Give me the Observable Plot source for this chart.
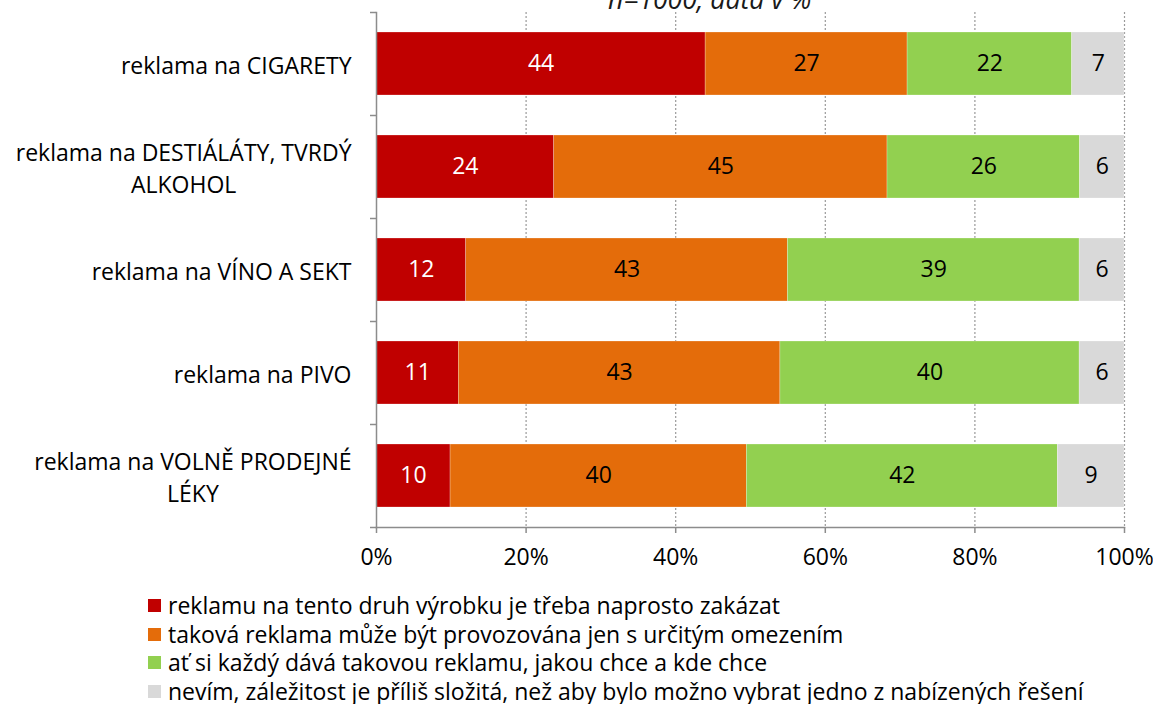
<!DOCTYPE html>
<html><head><meta charset="utf-8">
<script src="https://cdn.jsdelivr.net/npm/d3@7"></script>
<script src="https://cdn.jsdelivr.net/npm/@observablehq/plot@0.6"></script>
<style>
body{margin:0;background:#fff;font-family:"Open Sans",sans-serif;overflow:hidden}
#wrap{position:relative;width:1153px;height:704px;overflow:hidden}
#title{position:absolute;left:608px;top:-14px;font-size:26.5px;line-height:26.5px;font-style:italic;color:#1a1a1a;white-space:nowrap}
#chart{position:absolute;left:0;top:0}
#legend{position:absolute;left:148px;top:591px;font-size:23px;color:#000}
#legend .row{height:28.7px;line-height:28.7px;white-space:nowrap;display:flex;align-items:center}
#legend .sw{width:13px;height:13px;margin-right:7px;flex:none}
</style></head><body>
<div id="wrap">
  <div id="chart"></div>
  <div id="title">n=1000, data v %</div>
  <div id="legend"></div>
</div>
<script>
const categories = ["reklama na CIGARETY", "reklama na DESTIÁLÁTY, TVRDÝ\nALKOHOL", "reklama na VÍNO A SEKT", "reklama na PIVO", "reklama na VOLNĚ PRODEJNÉ\nLÉKY"];
const responses = [
  "reklamu na tento druh výrobku je třeba naprosto zakázat",
  "taková reklama může být provozována jen s určitým omezením",
  "ať si každý dává takovou reklamu, jakou chce a kde chce",
  "nevím, záležitost je příliš složitá, než aby bylo možno vybrat jedno z nabízených řešení"
];
const colors = ["#C00000", "#E46C0A", "#92D050", "#D9D9D9"];
const labelColors = ["#ffffff", "#000000", "#000000", "#000000"];
const zakazat = [44, 24, 12, 11, 10];
const omezeni = [27, 45, 43, 43, 40];
const kazdy = [22, 26, 39, 40, 42];
const nevim = [7, 6, 6, 6, 9];
const xTicks = [0, 0.2, 0.4, 0.6, 0.8, 1];

const series = [zakazat, omezeni, kazdy, nevim];
const data = [];
categories.forEach((c, i) => series.forEach((s, j) => data.push({cat: c, resp: responses[j], value: s[i], j})));

const W = 1153, H = 580, mTop = 12, mBottom = 53, mLeft = 376, mRight = 29;
const step = (H - mTop - mBottom) / categories.length;
const axisGray = "#8c8c8c";
const fs = 23;

const plot = Plot.plot({
  width: W, height: H,
  marginTop: mTop, marginBottom: mBottom, marginLeft: mLeft, marginRight: mRight,
  style: {fontFamily: "Open Sans", fontSize: fs + "px", color: "#000", background: "#fff"},
  x: {domain: [0, 1], axis: null, label: null},
  y: {domain: categories, paddingInner: 0.39, paddingOuter: 0.195, axis: null, label: null},
  color: {domain: responses, range: colors},
  marks: [
    Plot.ruleX(xTicks.slice(1), {stroke: "#9a9a9a", strokeWidth: 1.2, strokeDasharray: "2,2"}),
    Plot.barX(data, Plot.stackX({x: "value", y: "cat", fill: "resp", z: "resp", offset: "normalize", stroke: "#fff", strokeWidth: 0.5, strokeOpacity: 0.5})),
    Plot.text(data, Plot.stackX({x: "value", y: "cat", z: "resp", offset: "normalize", text: d => String(d.value), fill: d => labelColors[d.j], fontSize: fs})),
    Plot.frame({anchor: "left", stroke: axisGray, strokeWidth: 1.5}),
    Plot.frame({anchor: "bottom", stroke: axisGray, strokeWidth: 1.5}),
    Plot.ruleY(categories, {x1: -6 / 748, x2: 0, dy: -step / 2, stroke: axisGray, strokeWidth: 1.5}),
    Plot.ruleY(categories.slice(-1), {x1: -6 / 748, x2: 0, dy: step / 2, stroke: axisGray, strokeWidth: 1.5}),
    Plot.axisX({ticks: xTicks, tickFormat: d3.format(".0%"), tickSize: 6, tickPadding: 15.5, stroke: axisGray, strokeWidth: 1.5, fill: "#000", fontSize: fs, label: null}),
    Plot.axisY({tickSize: 0, tickPadding: 25, fill: "#000", fontSize: fs, lineHeight: 1.39, label: null})
  ]
});
document.getElementById("chart").appendChild(plot);

// centre multi-line category labels as in the original
d3.select(plot).selectAll("g[aria-label='y-axis tick label'] text").each(function() {
  const tspans = d3.select(this).selectAll("tspan");
  if (tspans.size() > 1) {
    let w = 0;
    tspans.each(function() { w = Math.max(w, this.getComputedTextLength()); });
    d3.select(this).attr("text-anchor", "middle");
    tspans.attr("x", -w / 2);
  }
});

const leg = d3.select("#legend");
responses.forEach((r, i) => {
  const row = leg.append("div").attr("class", "row");
  row.append("div").attr("class", "sw").style("background", colors[i]);
  row.append("span").text(r);
});
</script>
</body></html>
